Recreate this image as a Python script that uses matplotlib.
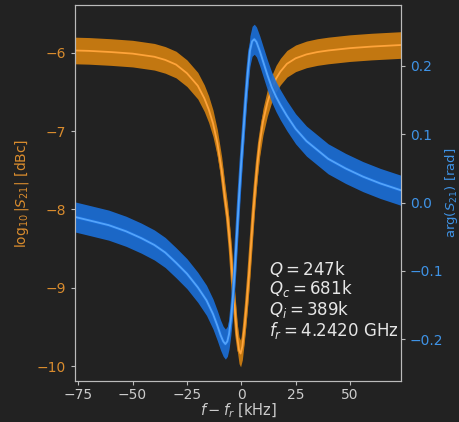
import numpy as np
import matplotlib
matplotlib.use('Agg')
import matplotlib.pyplot as plt

# |S21| fit (log10, dBc)
mag_x = [-76.5, -70, -60, -50, -45, -40, -35, -30, -25, -20, -17, -15, -13, -11, -9,
         -7.5, -6.3, -5, -4, -3, -2, -1, -0.3, 0.5, 1.5, 2.5, 3.5, 4.5, 5.5, 6.5, 7.5,
         8.5, 10, 12, 14, 16, 18, 21, 25, 30, 35, 40, 50, 60, 73.5]
mag_y = [-5.97, -5.975, -5.99, -6.01, -6.03, -6.05, -6.09, -6.15, -6.26, -6.42, -6.58,
         -6.72, -6.9, -7.15, -7.5, -7.85, -8.1, -8.5, -8.9, -9.25, -9.6, -9.8, -9.84,
         -9.75, -9.5, -9.2, -8.85, -8.45, -8.05, -7.7, -7.4, -7.15, -6.88, -6.64, -6.46,
         -6.33, -6.24, -6.14, -6.07, -6.02, -5.99, -5.97, -5.94, -5.92, -5.90]
mag_noise = 0.17

# phase fit (rad)
ph_x = [-76.5, -70, -61, -53, -46, -40, -35, -30, -25, -20, -16, -13, -11, -9.5, -8.3,
        -7.3, -6.4, -5.6, -4.8, -4, -3, -2, -1, 0, 1, 2, 3, 4, 5, 6, 7, 8.5, 10, 12,
        14, 16, 18, 21, 25, 30, 35, 40, 48, 56, 64, 73.5]
ph_y = [-0.021, -0.026, -0.033, -0.042, -0.052, -0.062, -0.073, -0.088, -0.104, -0.124,
        -0.143, -0.163, -0.180, -0.194, -0.203, -0.207, -0.203, -0.192, -0.172, -0.145,
        -0.100, -0.045, 0.01, 0.06, 0.105, 0.15, 0.19, 0.222, 0.236, 0.239, 0.235,
        0.222, 0.207, 0.187, 0.169, 0.155, 0.143, 0.127, 0.108, 0.09, 0.077, 0.064,
        0.05, 0.038, 0.028, 0.018]
ph_noise = 0.022

fit_text = '$Q = 247$k\n$Q_c = 681$k\n$Q_i = 389$k\n$f_r = 4.2420$ GHz'

bg = '#222222'
orange = '#c27711'
orange_fit = '#ffa43a'
blue = '#1b6fd9'
blue_fit = '#5aaaff'
orange_txt = '#d98c2e'
blue_txt = '#3f93e6'
spine = '#bbbbbb'

fig = plt.figure(figsize=(4.59, 4.22), dpi=100, facecolor=bg)
ax1 = fig.add_axes([0.1634, 0.0972, 0.7102, 0.8908])
ax1.set_facecolor(bg)
ax2 = ax1.twinx()

mx = np.array(mag_x)
my = np.array(mag_y)
ax1.fill_between(mx, my - mag_noise, my + mag_noise, color=orange, lw=0)
ax1.plot(mx, my, color=orange, lw=2.5)
ax1.plot(mx, my, color=orange_fit, lw=1.3)

px = np.array(ph_x)
py = np.array(ph_y)
ax2.fill_between(px, py - ph_noise, py + ph_noise, color=blue, lw=0, alpha=0.9)
ax2.plot(px, py, color=blue, lw=2.5, alpha=0.9)
ax2.plot(px, py, color=blue_fit, lw=1.3, alpha=0.9)

ax1.set_xlim(-76.5, 73.5)
ax1.set_ylim(-10.19, -5.39)
ax2.set_ylim(-0.261, 0.289)
ax1.set_xticks([-75, -50, -25, 0, 25, 50])
ax1.set_yticks([-10, -9, -8, -7, -6])
ax2.set_yticks([-0.2, -0.1, 0.0, 0.1, 0.2])

for ax in (ax1, ax2):
    for s in ax.spines.values():
        s.set_color(spine)
ax1.tick_params(axis='x', colors=spine, labelcolor='#cccccc', labelsize=10, length=3, pad=2)
ax1.tick_params(axis='y', colors=spine, labelcolor=orange_txt, labelsize=10, length=3)
ax2.tick_params(axis='y', colors=spine, labelcolor=blue_txt, labelsize=10, length=3)

ax1.set_xlabel(r'$f - f_r$ [kHz]', color='#cccccc', fontsize=10.5, labelpad=0)
ax1.set_ylabel(r'$\log_{10}|S_{21}|$ [dBc]', color=orange_txt, fontsize=10, labelpad=4)
ax2.set_ylabel(r'$\arg(S_{21})$ [rad]', color=blue_txt, fontsize=9.5)
ax2.yaxis.set_label_coords(1.13, 0.5)

ax1.text(0.596, 0.325, fit_text, transform=ax1.transAxes, color='#e6e6e6',
         fontsize=12, va='top', ha='left', linespacing=0.98, zorder=10)

fig.savefig('out.png', dpi=100, facecolor=bg)
